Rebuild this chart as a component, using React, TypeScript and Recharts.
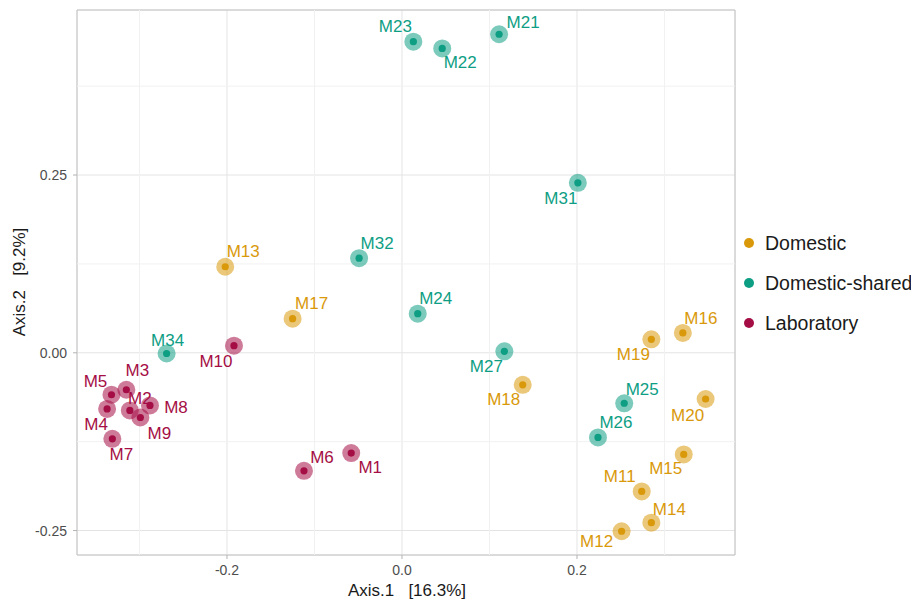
import React from "react";
import {
  ScatterChart,
  Scatter,
  XAxis,
  YAxis,
  CartesianGrid,
  ReferenceLine,
  ReferenceArea,
} from "recharts";

// ordination scores
const sampleNames = [
  "M1", "M2", "M3", "M4", "M5", "M6", "M7", "M8", "M9", "M10",
  "M11", "M12", "M13", "M14", "M15", "M16", "M17", "M18", "M19", "M20",
  "M21", "M22", "M23", "M24", "M25", "M26", "M27", "M31", "M32", "M34",
];
const sampleGroups = [
  "Laboratory", "Laboratory", "Laboratory", "Laboratory", "Laboratory",
  "Laboratory", "Laboratory", "Laboratory", "Laboratory", "Laboratory",
  "Domestic", "Domestic", "Domestic", "Domestic", "Domestic",
  "Domestic", "Domestic", "Domestic", "Domestic", "Domestic",
  "Domestic-shared", "Domestic-shared", "Domestic-shared", "Domestic-shared", "Domestic-shared",
  "Domestic-shared", "Domestic-shared", "Domestic-shared", "Domestic-shared", "Domestic-shared",
];
const axis1 = [
  -0.058, -0.311, -0.315, -0.337, -0.332, -0.112, -0.331, -0.288, -0.299, -0.192,
  0.274, 0.251, -0.202, 0.285, 0.322, 0.321, -0.125, 0.138, 0.285, 0.347,
  0.111, 0.046, 0.013, 0.018, 0.254, 0.224, 0.117, 0.201, -0.049, -0.269,
];
const axis2 = [
  -0.141, -0.081, -0.052, -0.079, -0.059, -0.166, -0.121, -0.074, -0.091, 0.01,
  -0.195, -0.251, 0.121, -0.239, -0.143, 0.028, 0.048, -0.045, 0.019, -0.065,
  0.448, 0.428, 0.4375, 0.055, -0.071, -0.119, 0.002, 0.239, 0.133, -0.001,
];

const groupNames = ["Domestic", "Domestic-shared", "Laboratory"];
const xTicks = [-0.2, 0, 0.2];
const yTicks = [-0.25, 0, 0.25];
const xMinor = [-0.3, -0.1, 0.1, 0.3];
const yMinor = [-0.125, 0.125, 0.375];

const colors: Record<string, string> = {
  Domestic: "#D9990B",
  "Domestic-shared": "#0E9E84",
  Laboratory: "#A50E45",
};

// where each text label sits relative to its point (px)
const nudge: Record<string, [number, number]> = {
  M1: [19, 14], M2: [10, -12], M3: [11, -20], M4: [-11, 15], M5: [-16, -14],
  M6: [18, -14], M7: [9, 15], M8: [26, 2], M9: [19, 16], M10: [-18, 15],
  M11: [-22, -15], M12: [-25, 10], M13: [18, -16], M14: [18, -14], M15: [-18, 14],
  M16: [18, -15], M17: [19, -16], M18: [-19, 14], M19: [-18, 15], M20: [-18, 16],
  M21: [24, -12], M22: [18, 14], M23: [-18, -16], M24: [18, -16], M25: [18, -14],
  M26: [18, -15], M27: [-18, 15], M31: [-17, 15], M32: [18, -15], M34: [1, -13],
};

const rows = sampleNames.map((name, i) => ({
  name,
  group: sampleGroups[i],
  x: axis1[i],
  y: axis2[i],
}));

const FONT = '"Liberation Sans", Arial, Helvetica, sans-serif';
const X_DOMAIN: [number, number] = [-0.3714, 0.3806];
const Y_DOMAIN: [number, number] = [-0.2844, 0.4821];

const Dot = (props: any) => {
  const { cx, cy, payload } = props;
  const c = colors[payload.group];
  return (
    <g>
      <circle cx={cx} cy={cy} r={9} fill={c} fillOpacity={0.55} />
      <circle cx={cx} cy={cy} r={3.6} fill={c} />
    </g>
  );
};

const Label = (props: any) => {
  const { cx, cy, payload } = props;
  const [dx, dy] = nudge[payload.name] || [0, 0];
  return (
    <text
      x={cx + dx}
      y={cy + dy}
      dy="0.35em"
      textAnchor="middle"
      fontSize={17}
      fontFamily={FONT}
      fill={colors[payload.group]}
    >
      {payload.name}
    </text>
  );
};

export default function App() {
  return (
    <div style={{ position: "relative", width: 911, height: 597, fontFamily: FONT }}>
      <ScatterChart
        width={911}
        height={597}
        margin={{ top: 2, right: 184, bottom: 0, left: 0 }}
      >
        <CartesianGrid stroke="#E4E4E4" strokeWidth={1} />
        {xMinor.map((v) => (
          <ReferenceLine key={"vx" + v} x={v} stroke="#F1F1F1" strokeWidth={1} />
        ))}
        {yMinor.map((v) => (
          <ReferenceLine key={"hy" + v} y={v} stroke="#F1F1F1" strokeWidth={1} />
        ))}
        <XAxis
          type="number"
          dataKey="x"
          domain={X_DOMAIN}
          allowDataOverflow
          ticks={xTicks}
          tickFormatter={(v: number) => v.toFixed(1)}
          height={50}
          axisLine={false}
          tickLine={{ stroke: "#B3B3B3" }}
          tickSize={4}
          tickMargin={6}
          tick={{ fill: "#4D4D4D", fontSize: 14, fontFamily: FONT }}
        />
        <YAxis
          type="number"
          dataKey="y"
          domain={Y_DOMAIN}
          allowDataOverflow
          ticks={yTicks}
          tickFormatter={(v: number) => v.toFixed(2)}
          width={69}
          axisLine={false}
          tickLine={{ stroke: "#B3B3B3" }}
          tickSize={4}
          tickMargin={6}
          tick={{ fill: "#4D4D4D", fontSize: 14, fontFamily: FONT }}
        />
        <ReferenceArea
          x1={X_DOMAIN[0]}
          x2={X_DOMAIN[1]}
          y1={Y_DOMAIN[0]}
          y2={Y_DOMAIN[1]}
          fill="none"
          stroke="#C4C4C4"
          strokeWidth={1}
        />
        {groupNames.map((g) => (
          <Scatter
            key={g}
            name={g}
            data={rows.filter((r) => r.group === g)}
            shape={<Dot />}
            isAnimationActive={false}
          />
        ))}
        <Scatter
          name="labels"
          data={rows}
          shape={<Label />}
          legendType="none"
          isAnimationActive={false}
        />
      </ScatterChart>

      {/* axis titles */}
      <div
        style={{
          position: "absolute",
          left: 399,
          top: 583,
          transform: "translate(-50%, -50%)",
          fontSize: 17,
          whiteSpace: "pre",
          color: "#1A1A1A",
        }}
      >
        {"Axis.1   [16.3%]"}
      </div>
      <div
        style={{
          position: "absolute",
          left: 12,
          top: 274,
          transform: "translate(-50%, -50%) rotate(-90deg)",
          fontSize: 17,
          whiteSpace: "pre",
          color: "#1A1A1A",
        }}
      >
        {"Axis.2   [9.2%]"}
      </div>

      {/* legend */}
      <div style={{ position: "absolute", left: 736, top: 215 }}>
        {groupNames.map((g) => (
          <div
            key={g}
            style={{ display: "flex", alignItems: "center", height: 40, fontSize: 19.5, color: "#1A1A1A" }}
          >
            <span
              style={{
                display: "inline-block",
                width: 10,
                height: 10,
                borderRadius: 5,
                background: colors[g],
                marginRight: 11,
              }}
            />
            {g}
          </div>
        ))}
      </div>
    </div>
  );
}
